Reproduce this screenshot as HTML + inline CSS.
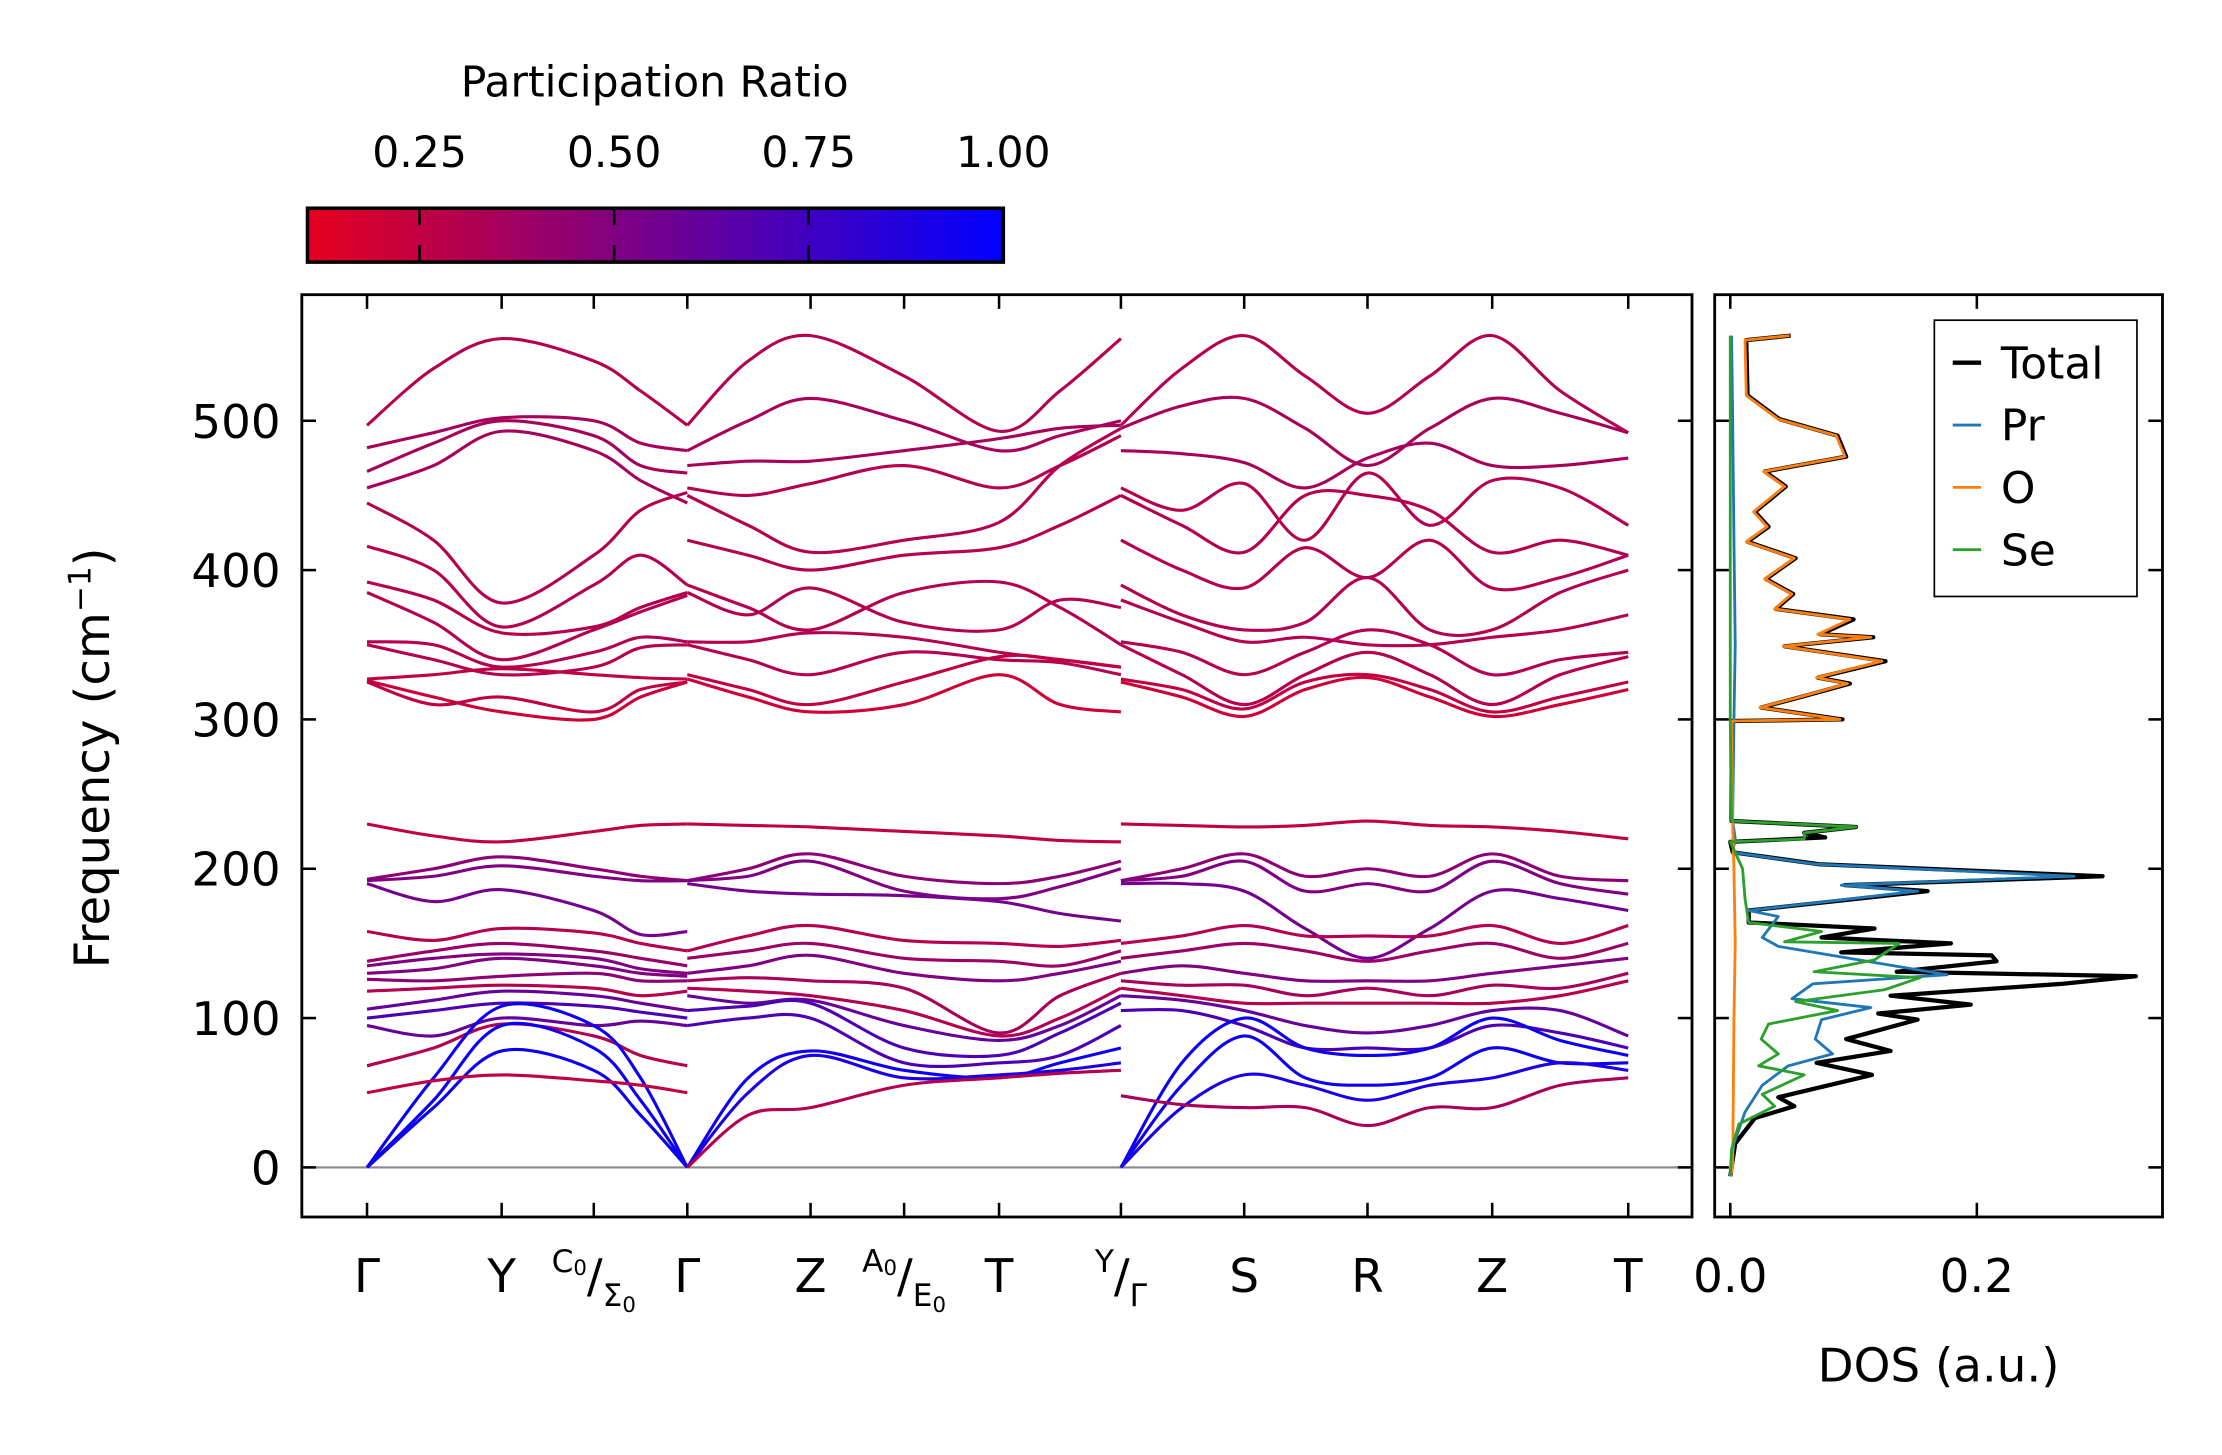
<!DOCTYPE html>
<html><head><meta charset="utf-8"><style>
html,body{margin:0;padding:0;background:#fff}
svg{display:block}
text{font-family:"DejaVu Sans","Liberation Sans",sans-serif;fill:#000}
</style></head><body>
<svg id="fig" width="2222" height="1455" viewBox="0 0 1568 1027" preserveAspectRatio="none" xmlns="http://www.w3.org/2000/svg">
<defs>
<linearGradient id="cg" x1="0" x2="1" y1="0" y2="0"><stop offset="0" stop-color="rgb(230,0,30)"/><stop offset="1" stop-color="rgb(0,0,255)"/></linearGradient>
<clipPath id="mclip"><rect x="213" y="208" width="981" height="651"/></clipPath>
<clipPath id="dclip"><rect x="1210" y="208" width="316" height="651"/></clipPath>
</defs>
<g>
<text x="462" y="68" font-size="30" text-anchor="middle">Participation Ratio</text>
<rect x="217" y="147" width="491" height="38" fill="url(#cg)" stroke="#000" stroke-width="2.5"/>
<g id="cbticks"></g>
</g>
<g>
<line x1="213" x2="1194" y1="824" y2="824" stroke="#888" stroke-width="1.5"/>
<g id="bands" clip-path="url(#mclip)"></g>
<rect x="213" y="208" width="981" height="651" fill="none" stroke="#000" stroke-width="2"/>
<g id="mticks"></g>
<text transform="translate(77,535) rotate(-90)" font-size="34" text-anchor="middle">Frequency (cm<tspan font-size="22" dy="-13">−1</tspan><tspan dy="13">)</tspan></text>
</g>
<g>
<g id="dos" clip-path="url(#dclip)"></g>
<rect x="1210" y="208" width="316" height="651" fill="none" stroke="#000" stroke-width="2"/>
<g id="dticks"></g>
<text x="1368" y="975" font-size="33" text-anchor="middle">DOS (a.u.)</text>
<g>
<rect x="1365" y="226" width="143" height="195" fill="#fff" stroke="#000" stroke-width="1.2"/>
<g id="legend"></g>
</g>
</g>
</svg>
<script>
const NS="http://www.w3.org/2000/svg";
// ---- axis data ----
const yTicks=[0,100,200,300,400,500];
const kTickPos=[0,0.95,1.6,2.26,3.13,3.79,4.46,5.32,6.19,7.06,7.94,8.9];
const kTickLabels=["Γ","Y","C0/Σ0","Γ","Z","A0/E0","T","Y/Γ","S","R","Z","T"];
const cbTicks=[0.25,0.5,0.75,1.0];
const cbTickLabels=["0.25","0.50","0.75","1.00"];
const dosTicks=[0.0,0.2];
const dosTickLabels=["0.0","0.2"];
// ---- band samples (k positions per segment) ----
const kSegA=[0,0.47,0.95,1.6,1.93,2.26];
const kSegB=[2.26,2.69,3.13,3.79,4.46,4.89,5.32];
const kSegC=[5.32,5.75,6.19,6.62,7.06,7.50,7.94,8.42,8.90];
const bandsA=[[497,535,555,540,520,497],[482,492,502,500,485,480],[466,485,500,490,470,465],[455,470,493,480,460,445],[445,420,378,410,440,452],[416,400,362,390,410,390],[392,380,358,362,375,385],[385,365,340,360,372,383],[352,350,335,345,355,352],[350,340,330,335,348,350],[327,330,334,330,328,327],[326,315,305,300,315,325],[325,310,315,305,320,325],
[230,222,218,225,229,230],[193,200,208,200,195,192],[192,195,202,195,192,192],[190,178,186,172,156,158],[158,152,160,157,150,145],[138,145,150,145,140,135],[135,140,143,140,133,130],[130,133,140,135,130,128],[126,125,128,130,125,125],[118,120,122,120,115,118],[106,112,118,115,110,105],[100,105,110,108,104,100],[95,88,100,95,98,95],[68,80,96,88,75,68],[0,60,108,95,60,0],[0,45,95,80,45,0],[0,40,78,65,35,0],[50,58,62,58,55,50]];
const ratioA=[0.3,0.35,0.35,0.35,0.3,0.3,0.3,0.3,0.3,0.3,0.25,0.2,0.25,0.25,0.45,0.5,0.55,0.3,0.4,0.5,0.5,0.45,0.3,0.6,0.7,0.6,0.3,0.95,0.95,0.95,0.25];
const bandsB=[[497,540,557,530,493,520,555],[480,500,515,500,480,490,500],[470,473,473,480,488,495,497],[455,450,458,470,455,470,490],[450,430,412,420,432,470,495],[420,410,400,410,415,430,450],[390,375,360,385,392,375,350],[385,370,388,365,360,380,375],[352,352,358,355,345,340,335],[350,340,330,345,340,338,330],[330,320,310,325,342,340,335],[327,315,305,310,330,310,305],
[230,229,228,225,222,219,218],[192,200,210,195,190,195,205],[192,195,205,185,180,188,200],[190,185,183,182,178,170,165],[145,155,162,152,150,148,152],[140,145,150,140,138,135,145],[130,135,142,130,125,130,138],[125,127,125,120,90,115,130],[120,118,115,105,88,100,120],[115,110,112,95,85,95,115],[105,108,110,80,75,90,110],[95,100,100,70,70,75,95],[0,60,78,65,60,70,80],[0,50,75,60,62,65,70],[0,35,40,55,60,63,65]];
const ratioB=[0.3,0.35,0.35,0.3,0.3,0.3,0.3,0.3,0.3,0.3,0.25,0.2,0.25,0.45,0.5,0.55,0.3,0.4,0.5,0.35,0.3,0.6,0.7,0.7,0.95,0.9,0.3];
const bandsC=[[497,535,557,530,505,530,557,520,492],[495,510,515,495,470,495,515,505,492],[480,478,472,455,475,485,470,470,475],[455,440,458,420,465,430,460,455,430],[450,430,412,450,450,440,412,420,410],[420,400,388,415,395,420,388,395,410],[390,370,360,365,395,360,360,385,400],[380,365,352,355,350,350,355,360,370],[352,345,330,345,360,350,330,340,345],[350,330,310,330,345,330,310,330,342],[327,320,307,325,330,320,305,315,325],[325,315,302,320,328,315,302,310,320],
[230,229,228,229,232,229,228,225,220],[192,200,210,195,200,195,210,195,192],[192,195,205,185,190,185,205,190,183],[190,190,185,160,140,160,185,180,172],[150,155,162,155,155,155,162,150,162],[140,145,150,145,138,145,150,140,150],[130,135,130,125,125,125,130,135,140],[125,122,122,115,120,115,122,120,130],[120,115,110,110,110,110,110,115,125],[115,112,105,95,90,95,105,105,88],[105,105,95,80,80,80,95,90,80],[0,70,100,80,75,80,100,85,75],[0,55,88,60,55,60,80,70,70],[0,40,62,55,45,55,60,70,65],[48,42,40,40,28,40,40,55,60]];
const ratioC=[0.3,0.35,0.35,0.3,0.3,0.3,0.3,0.3,0.3,0.3,0.25,0.2,0.25,0.45,0.5,0.55,0.3,0.4,0.5,0.35,0.3,0.6,0.7,0.95,0.95,0.9,0.35];
// ---- DOS data: [freq, value] ----
const dosO=[[-6,0],[0,0.002],[100,0.003],[150,0.004],[200,0.003],[230,0.002],[299,0.001],[300,0.089],[308,0.024],[314,0.052],[324,0.095],[328,0.07],[339,0.123],[349,0.043],[355,0.114],[357,0.071],[367,0.097],[374,0.036],[384,0.05],[394,0.028],[408,0.052],[419,0.013],[429,0.03],[439,0.019],[456,0.044],[466,0.027],[476,0.093],[490,0.086],[501,0.039],[517,0.013],[554,0.012],[557,0.048]];
const dosTotal=[[-6,0],[16,0.004],[33,0.02],[41,0.052],[47,0.039],[62,0.115],[70,0.07],[78,0.13],[86,0.094],[99,0.152],[103,0.12],[109,0.195],[115,0.13],[123,0.27],[128,0.329],[131,0.135],[138,0.216],[142,0.212],[144,0.09],[150,0.179],[154,0.074],[160,0.117],[164,0.015],[172,0.015],[185,0.16],[189,0.093],[195,0.302],[203,0.072],[211,0.002],[218,0.0],[221,0.077],[224,0.06],[228,0.102],[232,0.001],[299,0.001],[300,0.091],[308,0.025],[314,0.053],[324,0.097],[328,0.071],[339,0.126],[349,0.044],[355,0.116],[357,0.073],[367,0.1],[374,0.037],[384,0.051],[394,0.029],[408,0.053],[419,0.014],[429,0.031],[439,0.02],[456,0.045],[466,0.028],[476,0.094],[490,0.087],[501,0.04],[517,0.014],[554,0.013],[557,0.049]];
const dosPr=[[-6,0],[16,0.003],[37,0.012],[55,0.026],[68,0.047],[76,0.083],[86,0.069],[99,0.074],[107,0.114],[113,0.05],[123,0.067],[129,0.176],[148,0.039],[154,0.026],[168,0.039],[172,0.015],[185,0.152],[189,0.09],[195,0.279],[203,0.07],[211,0.002],[220,0.004],[232,0.002],[300,0.003],[350,0.004],[420,0.003],[500,0.002],[557,0.001]];
const dosSe=[[-6,0],[12,0.001],[29,0.007],[41,0.036],[49,0.026],[62,0.06],[68,0.023],[76,0.039],[86,0.025],[96,0.031],[105,0.087],[111,0.053],[119,0.125],[127,0.154],[131,0.068],[139,0.117],[150,0.137],[151,0.044],[158,0.074],[164,0.015],[180,0.012],[200,0.01],[218,0.0],[220,0.06],[224,0.06],[228,0.102],[232,0.001],[300,0.0],[557,0.0]];
const legendLabels=["Total","Pr","O","Se"];
const legendColors=["#000000","#1f77b4","#ff7f0e","#2ca02c"];
// ---- scales ----
const yS=f=>824-f*1.054;
const xS=k=>259+k*100;
const cbX=v=>217+(v-0.106)/(1-0.106)*491;
const dX=v=>1221+v*870;
function cmap(p){const t=Math.max(0,Math.min(1,(p-0.106)/(1-0.106)));return `rgb(${Math.round(230*(1-t))},0,${Math.round(30+225*t)})`;}
function mk(tag,attrs,parent){const e=document.createElementNS(NS,tag);for(const k in attrs)e.setAttribute(k,attrs[k]);parent.appendChild(e);return e;}
function smoothPath(pts){let d=`M${pts[0][0].toFixed(1)},${pts[0][1].toFixed(1)}`;for(let i=0;i<pts.length-1;i++){const p0=pts[Math.max(0,i-1)],p1=pts[i],p2=pts[i+1],p3=pts[Math.min(pts.length-1,i+2)];const c1=[p1[0]+(p2[0]-p0[0])/6,p1[1]+(p2[1]-p0[1])/6],c2=[p2[0]-(p3[0]-p1[0])/6,p2[1]-(p3[1]-p1[1])/6];d+=`C${c1[0].toFixed(1)},${c1[1].toFixed(1)} ${c2[0].toFixed(1)},${c2[1].toFixed(1)} ${p2[0].toFixed(1)},${p2[1].toFixed(1)}`;}return d;}
// bands
const bg=document.getElementById('bands');
[[kSegA,bandsA,ratioA],[kSegB,bandsB,ratioB],[kSegC,bandsC,ratioC]].forEach(([ks,bs,rs],si)=>{
 bs.forEach((b,i)=>{const pts=b.map((f,j)=>[xS(ks[j]),yS(f)]);
  const p=mk('path',{d:smoothPath(pts),fill:'none',stroke:cmap(rs[i]),'stroke-width':2.2},bg);
  
  
 });
});
// main ticks
const mt=document.getElementById('mticks');
yTicks.forEach(v=>{const y=yS(v);
 mk('line',{x1:213,x2:223,y1:y,y2:y,stroke:'#000','stroke-width':1.8},mt);
 mk('line',{x1:1184,x2:1194,y1:y,y2:y,stroke:'#000','stroke-width':1.8},mt);
 const t=mk('text',{x:198,y:y+12,'font-size':33,'text-anchor':'end'},mt);t.textContent=v;
 
 
});
kTickPos.forEach((k,i)=>{const x=xS(k);
 mk('line',{x1:x,x2:x,y1:849,y2:859,stroke:'#000','stroke-width':1.8},mt);
 mk('line',{x1:x,x2:x,y1:208,y2:218,stroke:'#000','stroke-width':1.8},mt);
 const lab=kTickLabels[i];const t=mk('text',{x:x,y:912,'font-size':33,'text-anchor':'middle'},mt);
 
 
 if(lab.includes('/')){const [a,b]=lab.split('/');
  const s1=mk('tspan',{'font-size':22,dy:-14},t);s1.textContent=a.length>1?a[0]:a;
  if(a.length>1){const s=mk('tspan',{'font-size':15,dy:2},t);s.textContent=a.slice(1);}
  const s2=mk('tspan',{'font-size':33,dy:a.length>1?12:14},t);s2.textContent='/';
  const s3=mk('tspan',{'font-size':22,dy:10},t);s3.textContent=b.length>1?b[0]:b;
  if(b.length>1){const s=mk('tspan',{'font-size':15,dy:4},t);s.textContent=b.slice(1);}
 } else t.textContent=lab;
});
// colorbar ticks
const ct=document.getElementById('cbticks');
cbTicks.forEach((v,i)=>{const x=cbX(v);
 if(v<1){mk('line',{x1:x,x2:x,y1:147,y2:159,stroke:'#000','stroke-width':1.8},ct);
 mk('line',{x1:x,x2:x,y1:173,y2:185,stroke:'#000','stroke-width':1.8},ct);}
 const t=mk('text',{x:x,y:118,'font-size':30,'text-anchor':'middle'},ct);t.textContent=cbTickLabels[i];
 
 
});
// DOS
const dg=document.getElementById('dos');
[[dosTotal,'#000000',3,'dos-total'],[dosPr,'#1f77b4',2,'dos-pr'],[dosO,'#ff7f0e',2,'dos-o'],[dosSe,'#2ca02c',2,'dos-se']].forEach(([arr,c,w,n])=>{
 const d='M'+arr.map(([f,v])=>`${dX(v).toFixed(1)},${yS(f).toFixed(1)}`).join('L');
 const p=mk('path',{d:d,fill:'none',stroke:c,'stroke-width':w,'stroke-linejoin':'round'},dg);
 
 
});
const dt=document.getElementById('dticks');
yTicks.forEach(v=>{const y=yS(v);
 mk('line',{x1:1210,x2:1220,y1:y,y2:y,stroke:'#000','stroke-width':1.8},dt);
 mk('line',{x1:1516,x2:1526,y1:y,y2:y,stroke:'#000','stroke-width':1.8},dt);});
dosTicks.forEach((v,i)=>{const x=dX(v);
 mk('line',{x1:x,x2:x,y1:849,y2:859,stroke:'#000','stroke-width':1.8},dt);
 mk('line',{x1:x,x2:x,y1:208,y2:218,stroke:'#000','stroke-width':1.8},dt);
 const t=mk('text',{x:x,y:912,'font-size':33,'text-anchor':'middle'},dt);t.textContent=dosTickLabels[i];
 
 
});
const lg=document.getElementById('legend');
legendLabels.forEach((l,i)=>{const y=256+i*44;
 const ln=mk('line',{x1:1378,x2:1398,y1:y,y2:y,stroke:legendColors[i],'stroke-width':i==0?3:2},lg);
 
 
 const t=mk('text',{x:1412,y:y+11,'font-size':31},lg);t.textContent=l;
 
 
});
</script>
</body></html>
